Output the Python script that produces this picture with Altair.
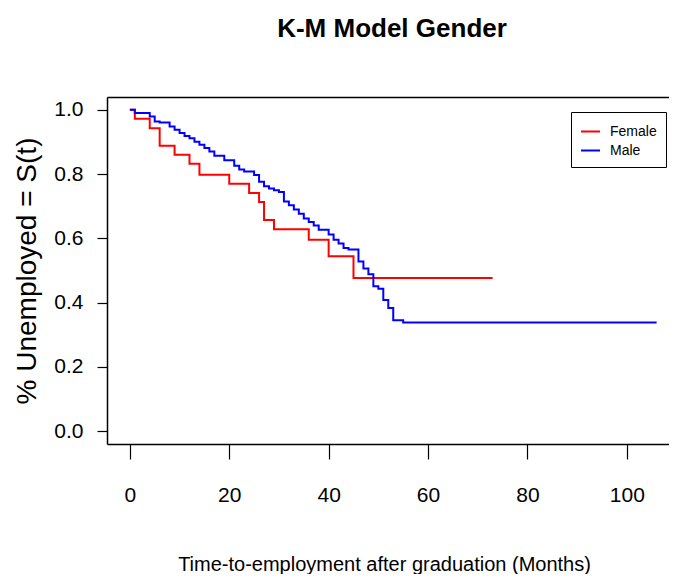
import altair as alt
import pandas as pd

# Kaplan-Meier step points (time in months, survival S(t))
female_t = [0, 1, 4, 6, 9, 12, 14, 20, 24, 26, 27, 29, 36, 40, 45, 73]
female_s = [1.0, 0.972, 0.943, 0.888, 0.860, 0.832, 0.798, 0.770, 0.741,
            0.713, 0.657, 0.628, 0.596, 0.544, 0.477, 0.477]

male_t = [0, 1, 4, 5, 6, 8, 9, 10, 11, 12, 13, 14, 15, 16, 17, 19, 21, 22,
          23, 25, 26, 27, 28, 29, 30, 31, 32, 33, 34, 35, 36, 37, 38, 40, 41,
          42, 43, 44, 46, 47, 48, 49, 50, 51, 52, 53, 55, 106]
male_s = [1.0, 0.990, 0.979, 0.964, 0.961, 0.948, 0.938, 0.928, 0.919, 0.912,
          0.901, 0.891, 0.881, 0.870, 0.857, 0.843, 0.826, 0.814, 0.808, 0.797,
          0.776, 0.762, 0.755, 0.750, 0.744, 0.715, 0.703, 0.690, 0.677, 0.662,
          0.651, 0.640, 0.627, 0.612, 0.596, 0.584, 0.570, 0.565, 0.528, 0.506,
          0.488, 0.451, 0.443, 0.408, 0.383, 0.345, 0.338, 0.338]

groups = ["Female", "Male"]
colors = ["#FF0000", "#0000FF"]
x_ticks = [0, 20, 40, 60, 80, 100]
y_ticks = [0.0, 0.2, 0.4, 0.6, 0.8, 1.0]

female = pd.DataFrame({"t": female_t, "s": female_s, "group": "Female"})
male = pd.DataFrame({"t": male_t, "s": male_s, "group": "Male"})

FONT = "Liberation Sans, Arial, sans-serif"
x_scale = alt.Scale(domain=[-4.6, 110.1], nice=False, zero=False)
y_scale = alt.Scale(domain=[-0.04, 1.04], nice=False, zero=False)

x_bottom = alt.X("t:Q", scale=x_scale,
                 axis=alt.Axis(orient="bottom", values=x_ticks, format="d",
                               title="Time-to-employment after graduation (Months)",
                               titleFont=FONT, titleFontSize=20,
                               titleFontWeight="normal", titleColor="black",
                               titleX=277, titleY=120, titleAlign="center",
                               titleBaseline="middle",
                               labelFont=FONT, labelFontSize=21,
                               labelColor="black", labelPadding=25,
                               tickSize=15, tickColor="black", tickWidth=1.2,
                               domain=True, domainColor="black",
                               domainWidth=1.5, grid=False))
x_top = alt.X("t:Q", scale=x_scale,
              axis=alt.Axis(orient="top", title=None, labels=False, ticks=False,
                            domain=True, domainColor="black", domainWidth=1.5,
                            grid=False))
y_left = alt.Y("s:Q", scale=y_scale,
               axis=alt.Axis(orient="left", values=y_ticks, format=".1f",
                             title="% Unemployed = S(t)",
                             titleFont=FONT, titleFontSize=28,
                             titleFontWeight="normal", titleColor="black",
                             titleAngle=270, titleX=-80, titleY=173.5,
                             titleAlign="center", titleBaseline="middle",
                             labelFont=FONT, labelFontSize=21,
                             labelColor="black", labelPadding=14,
                             tickSize=10, tickColor="black", tickWidth=1.2,
                             domain=True, domainColor="black", domainWidth=1.5,
                             grid=False))
y_none = alt.Y("s:Q", scale=y_scale, axis=None)

color = alt.Color("group:N", scale=alt.Scale(domain=groups, range=colors),
                  legend=alt.Legend(title=None, orient="none", legendX=464,
                                    legendY=15, direction="vertical",
                                    symbolType="stroke", symbolSize=361,
                                    symbolStrokeWidth=2, labelFont=FONT,
                                    labelFontSize=14, labelColor="black",
                                    labelOffset=9, padding=9, rowPadding=1,
                                    fillColor="white", strokeColor="black"))

red = alt.Chart(female).mark_line(interpolate="step-after", strokeWidth=2).encode(
    x=x_bottom, y=y_left, color=color)
blue = alt.Chart(male).mark_line(interpolate="step-after", strokeWidth=2).encode(
    x=x_top, y=y_none, color=color)

chart = alt.layer(red, blue).resolve_axis(
    x="independent", y="independent"
).properties(
    width=570, height=347,
    title=alt.TitleParams("K-M Model Gender", font=FONT, fontSize=26,
                          fontWeight="bold", color="black", anchor="middle",
                          offset=55),
    autosize=alt.AutoSizeParams(type="none"),
    padding={"left": 99, "top": 89, "right": -8, "bottom": 130},
).configure_view(stroke=None)

chart.save("out.html", embed_options={"renderer": "svg", "actions": False})
